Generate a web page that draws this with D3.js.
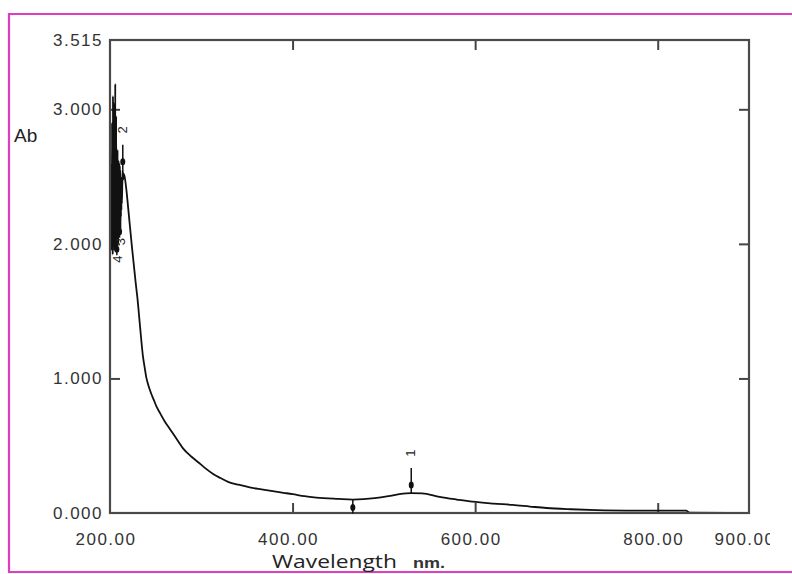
<!DOCTYPE html>
<html>
<head>
<meta charset="utf-8">
<script src="https://cdn.jsdelivr.net/npm/d3@7"></script>
<style>
  html, body { margin: 0; padding: 0; background: #fff; }
  svg { display: block; }
</style>
</head>
<body>
<svg id="chart" width="792" height="574"></svg>
<script>
// ---- data ----
const wavelengths = [
  201.5, 201.75, 202, 202.25, 202.5, 202.75, 203, 203.25, 203.5, 203.75,
  204, 204.25, 204.5, 204.75, 205, 205.25, 205.5, 205.75, 206, 206.25,
  206.5, 206.75, 207, 207.25, 207.5, 207.75, 208, 208.25, 208.5, 208.75,
  209, 209.25, 209.5, 209.75, 210, 210.25, 210.5, 210.75, 211, 211.25,
  211.5, 211.75, 212, 212.25, 212.5, 212.75, 213, 213.5, 214, 214.5, 215, 216,
  218, 220, 222, 224, 226, 228, 230, 233, 236, 238, 240, 242, 245, 248, 251, 255,
  260, 265, 269, 275, 280, 289, 298, 305, 313, 321, 330, 341, 353, 366, 380, 390,
  400, 413, 426, 450, 466, 490, 505, 517, 530, 542, 561, 580, 597,
  620, 641, 660, 678, 705, 733, 780, 831, 835, 900
];
const absorbance = [
  2.0, 2.6, 1.95, 2.9, 2.0, 2.55, 1.92, 3.1, 2.05, 2.6,
  1.98, 3.05, 2.0, 2.62, 1.95, 2.58, 2.1, 3.19, 2.0, 2.6,
  1.95, 2.95, 2.05, 2.55, 2.02, 2.6, 1.98, 2.7, 2.1, 2.58,
  2.0, 2.62, 2.08, 2.55, 2.05, 2.6, 2.15, 2.58, 2.1, 2.55,
  2.08, 2.5, 2.2, 2.48, 2.25, 2.45, 2.3, 2.45, 2.55, 2.48, 2.52, 2.5,
  2.4, 2.26, 2.12, 1.98, 1.85, 1.72, 1.6, 1.38, 1.17, 1.08, 1.0, 0.95, 0.89, 0.84, 0.79, 0.74,
  0.68, 0.63, 0.59, 0.53, 0.48, 0.42, 0.37, 0.33, 0.29, 0.26, 0.23, 0.21, 0.19, 0.175, 0.16, 0.15,
  0.14, 0.125, 0.115, 0.105, 0.10, 0.11, 0.125, 0.14, 0.148, 0.146, 0.12, 0.10, 0.084,
  0.07, 0.06, 0.048, 0.037, 0.028, 0.022, 0.018, 0.017, 0.003, 0.0
];
const yTickValues = [0, 1, 2, 3];
const yTopValue = 3.515;
const xTickValues = [200, 400, 600, 800, 900];
const xInnerTicks = [400, 600, 800];
const markerLabels = ["1", "2", "3", "4", ""];
const markerWl = [530, 214, 210.5, 207.5, 466];
const markerKind = ["peak", "peak", "valley", "valley", "valley"];

// ---- layout ----
const svg = d3.select("#chart");
const L = 110, R = 749, T = 40, B = 513;
const x = d3.scaleLinear().domain([200, 900]).range([L, R]);
const y = d3.scaleLinear().domain([0, yTopValue]).range([B, T]);

// pink outer border
svg.append("path")
  .attr("d", `M 800 14 L 9 14 L 9 572 L 800 572`)
  .attr("fill", "none").attr("stroke", "#e03cc0").attr("stroke-width", 2.2);

const labelFont = "'Liberation Sans', Arial, sans-serif";

// clip for x labels (900.00 is cut at the right)
svg.append("clipPath").attr("id", "xlabclip")
  .append("rect").attr("x", 0).attr("y", 0).attr("width", 770).attr("height", 574);

// x tick labels
const xLab = svg.append("g")
  .attr("transform", `translate(0,${B})`)
  .attr("clip-path", "url(#xlabclip)")
  .call(d3.axisBottom(x).tickValues(xTickValues).tickSize(0).tickPadding(20)
        .tickFormat(d3.format(".2f")));
xLab.select(".domain").remove();
xLab.selectAll("text")
  .attr("font-family", labelFont).attr("font-size", 17)
  .attr("letter-spacing", "1.5px").attr("fill", "#333").attr("dx", -4.5);

// y tick labels
const yLab = svg.append("g")
  .attr("transform", `translate(${L},0)`)
  .call(d3.axisLeft(y).tickValues(yTickValues.concat([yTopValue])).tickSize(0).tickPadding(7)
        .tickFormat(d3.format(".3f")));
yLab.select(".domain").remove();
yLab.selectAll("text")
  .attr("font-family", labelFont).attr("font-size", 17)
  .attr("letter-spacing", "1.5px").attr("fill", "#333");

// inner tick marks (all four sides)
const tickStyle = g => { g.select(".domain").remove(); g.selectAll("line").attr("stroke", "#444").attr("stroke-width", 2); };
svg.append("g").attr("transform", `translate(0,${B})`)
  .call(d3.axisBottom(x).tickValues(xInnerTicks).tickSizeInner(-10).tickFormat(""))
  .call(tickStyle);
svg.append("g").attr("transform", `translate(0,${T})`)
  .call(d3.axisTop(x).tickValues(xInnerTicks).tickSizeInner(-10).tickFormat(""))
  .call(tickStyle);
svg.append("g").attr("transform", `translate(${L},0)`)
  .call(d3.axisLeft(y).tickValues(yTickValues.slice(1)).tickSizeInner(-10).tickFormat(""))
  .call(tickStyle);
svg.append("g").attr("transform", `translate(${R},0)`)
  .call(d3.axisRight(y).tickValues(yTickValues.slice(1)).tickSizeInner(-10).tickFormat(""))
  .call(tickStyle);

// spectrum curve
const pts = wavelengths.map((w, i) => [w, absorbance[i]]);
svg.append("path")
  .datum(pts)
  .attr("fill", "none").attr("stroke", "#111").attr("stroke-width", 1.8)
  .attr("d", d3.line().curve(d3.curveMonotoneX).x(d => x(d[0])).y(d => y(d[1])));

// frame
svg.append("rect")
  .attr("x", L).attr("y", T).attr("width", R - L).attr("height", B - T)
  .attr("fill", "none").attr("stroke", "#4a4a4a").attr("stroke-width", 2.2);

// peak / valley pick markers
const valAt = w => absorbance[wavelengths.indexOf(w)];
markerWl.forEach((w, i) => {
  const px = x(w), y0 = y(valAt(w));
  const g = svg.append("g");
  if (markerKind[i] === "peak") {
    g.append("line").attr("x1", px).attr("x2", px).attr("y1", y0 - 25).attr("y2", y0)
      .attr("stroke", "#111").attr("stroke-width", 1.5);
    g.append("ellipse").attr("cx", px).attr("cy", y0 - 8).attr("rx", 2.5).attr("ry", 3.5).attr("fill", "#111");
    g.append("text").attr("transform", `translate(${px + 4},${y0 - 40}) rotate(-90)`)
      .attr("text-anchor", "middle").attr("font-family", labelFont).attr("font-size", 13)
      .attr("fill", "#222").text(markerLabels[i]);
  } else {
    g.append("line").attr("x1", px).attr("x2", px).attr("y1", y0).attr("y2", y0 + 14)
      .attr("stroke", "#111").attr("stroke-width", 1.5);
    g.append("ellipse").attr("cx", px).attr("cy", y0 + 8).attr("rx", 2.5).attr("ry", 3.5).attr("fill", "#111");
    g.append("text").attr("transform", `translate(${px + 5},${y0 + 18}) rotate(-90)`)
      .attr("text-anchor", "middle").attr("font-family", labelFont).attr("font-size", 13)
      .attr("fill", "#222").text(markerLabels[i]);
  }
});

// axis titles
svg.append("text").attr("x", 14).attr("y", 142)
  .attr("font-family", labelFont).attr("font-size", 19).attr("fill", "#222").text("Ab");
svg.append("text").attr("x", 272).attr("y", 568)
  .attr("font-family", "'Open Sans', 'Liberation Sans', sans-serif").attr("font-size", 19)
  .attr("textLength", 125).attr("lengthAdjust", "spacingAndGlyphs")
  .attr("fill", "#222").text("Wavelength");
svg.append("text").attr("x", 413).attr("y", 568)
  .attr("font-family", labelFont).attr("font-size", 15).attr("font-weight", "bold")
  .attr("textLength", 32).attr("lengthAdjust", "spacingAndGlyphs")
  .attr("fill", "#333").text("nm.");
</script>
</body>
</html>
